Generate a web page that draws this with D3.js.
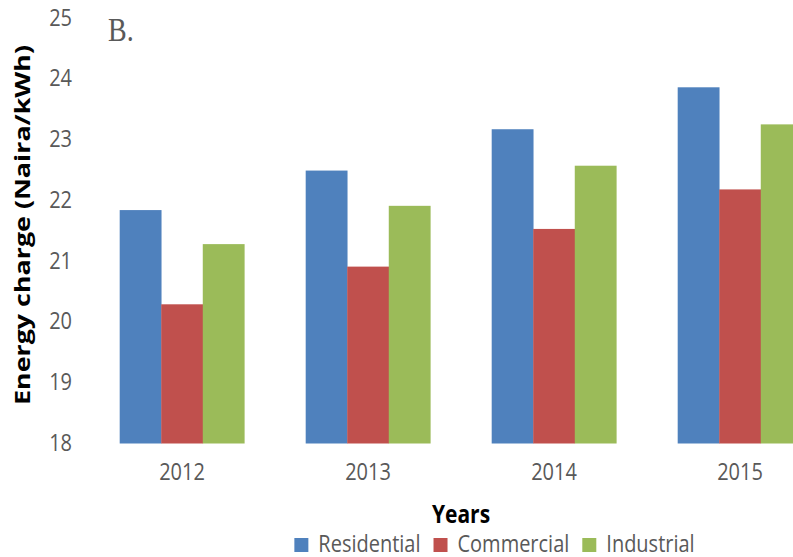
<!DOCTYPE html>
<html><head><meta charset="utf-8">
<script src="https://cdn.jsdelivr.net/npm/d3@7"></script>
<style>body{margin:0;background:#fff}svg{display:block}</style>
</head><body>
<svg id="c" width="793" height="557"></svg>
<script>
const years = ["2012", "2013", "2014", "2015"];
const seriesNames = ["Residential", "Commercial", "Industrial"];
const residential = [21.84, 22.49, 23.17, 23.86];
const commercial = [20.29, 20.91, 21.53, 22.18];
const industrial = [21.28, 21.91, 22.57, 23.25];
const yTicks = [18, 19, 20, 21, 22, 23, 24, 25];
const colors = ["#4F81BD", "#C0504D", "#9BBB59"];

const seriesValues = [residential, commercial, industrial];
const data = years.map((y, i) => ({year: y, values: seriesNames.map((s, j) => ({key: s, value: seriesValues[j][i]}))}));

const svg = d3.select("#c");
const FONT = "'Open Sans', sans-serif";
const SY = 1.17;
const grey = "#595959";

const x = d3.scaleBand().domain(years).range([89, 833]).paddingInner(0.33).paddingOuter(0.165);
const xs = d3.scaleBand().domain(seriesNames).range([0, x.bandwidth()]);
const y = d3.scaleLinear().domain([18, 25]).range([443.5, 18]);
const color = d3.scaleOrdinal().domain(seriesNames).range(colors);

// bars
svg.append("g").selectAll("g").data(data).join("g")
  .attr("transform", d => `translate(${x(d.year)},0)`)
  .selectAll("rect").data(d => d.values).join("rect")
  .attr("x", d => xs(d.key))
  .attr("width", xs.bandwidth() + 0.3)
  .attr("y", d => y(d.value))
  .attr("height", d => y(18) - y(d.value))
  .attr("fill", d => color(d.key));

// y axis
const ya = svg.append("g").attr("transform", "translate(76,0)")
  .call(d3.axisLeft(y).tickValues(yTicks).tickFormat(d3.format("d")).tickSize(0).tickPadding(4));
ya.select(".domain").remove();
ya.selectAll("text").attr("font-family", FONT).attr("font-size", 20).attr("fill", grey)
  .attr("transform", `scale(1,${SY})`).attr("dy", "0.3em");

// x axis
const xa = svg.append("g").attr("transform", "translate(0,443.5)")
  .call(d3.axisBottom(x).tickSize(0).tickPadding(17));
xa.select(".domain").remove();
xa.selectAll("text").attr("font-family", FONT).attr("font-size", 20).attr("fill", grey)
  .attr("transform", `scale(1,${SY})`);

// B. label
svg.append("text").attr("transform", `translate(108,41) scale(1,${SY})`)
  .attr("font-family", "'Liberation Serif', 'DejaVu Serif', serif").attr("font-size", 28)
  .attr("fill", grey).text("B.");

// Y title
svg.append("text").attr("transform", "translate(30,225) rotate(-90)")
  .attr("text-anchor", "middle").attr("font-family", FONT).attr("font-weight", "bold")
  .attr("font-size", 21).attr("fill", "#000")
  .attr("textLength", 360).attr("lengthAdjust", "spacingAndGlyphs")
  .text("Energy charge (Naira/kWh)");

// X title
svg.append("text").attr("transform", `translate(461,523) scale(1,${SY})`)
  .attr("text-anchor", "middle").attr("font-family", FONT).attr("font-weight", "bold")
  .attr("font-size", 21).attr("fill", "#000").text("Years");

// legend
const lg = svg.append("g");
const items = lg.selectAll("g").data(seriesNames).join("g");
items.append("rect").attr("width", 14).attr("height", 14).attr("y", 538).attr("fill", d => color(d));
items.append("text").attr("font-family", FONT).attr("font-size", 20).attr("fill", grey)
  .attr("transform", `translate(24,552) scale(1,${SY})`).text(d => d);
let widths = [];
items.each(function() { widths.push(this.querySelector("text").getComputedTextLength()); });
const itemW = widths.map(w => 24 + w);
const gap = 13;
const total = d3.sum(itemW) + gap * (itemW.length - 1);
let cx = 494.5 - total / 2;
items.each(function(d, i) { d3.select(this).attr("transform", `translate(${cx},0)`); cx += itemW[i] + gap; });
</script>
</body></html>
